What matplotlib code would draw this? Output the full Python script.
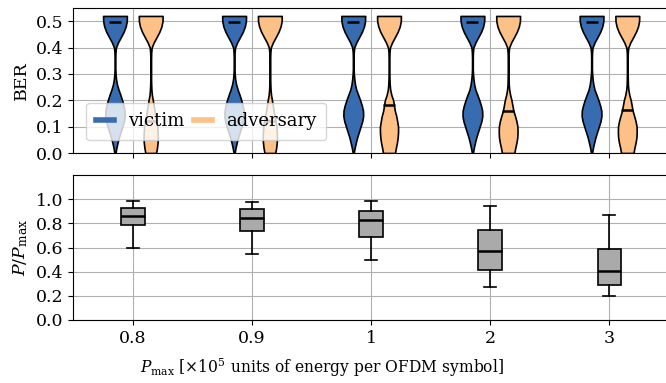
import matplotlib

matplotlib.use("Agg")

import matplotlib.pyplot as plt
from matplotlib.lines import Line2D

plt.rcParams["font.family"] = "DejaVu Serif"
plt.rcParams["mathtext.fontset"] = "dejavuserif"
plt.rcParams["font.size"] = 12.5
plt.rcParams["axes.axisbelow"] = True

# x axis
P_MAX_LABELS = ["0.8", "0.9", "1", "2", "3"]

# BER levels at which the violin widths were read (bottom to top)
BER_LEVELS = [0.00, 0.02, 0.04, 0.06, 0.08, 0.10, 0.12, 0.14, 0.16, 0.18,
              0.20, 0.22, 0.24, 0.26, 0.28, 0.30, 0.32, 0.34, 0.36, 0.38,
              0.40, 0.42, 0.44, 0.46, 0.48, 0.50, 0.52]

# relative density of BER, one row per P_max value
VICTIM_DENSITY = [
    [0.04, 0.12, 0.22, 0.34, 0.48, 0.62, 0.75, 0.82, 0.80, 0.72, 0.60, 0.46, 0.30, 0.17, 0.09,
     0.05, 0.03, 0.03, 0.03, 0.04, 0.08, 0.26, 0.50, 0.73, 0.90, 0.99, 1.00],
    [0.04, 0.12, 0.22, 0.34, 0.48, 0.62, 0.75, 0.82, 0.80, 0.72, 0.60, 0.46, 0.30, 0.17, 0.09,
     0.05, 0.03, 0.03, 0.03, 0.04, 0.08, 0.26, 0.50, 0.73, 0.90, 0.99, 1.00],
    [0.04, 0.12, 0.22, 0.33, 0.47, 0.61, 0.75, 0.83, 0.82, 0.72, 0.58, 0.42, 0.25, 0.15, 0.09,
     0.05, 0.03, 0.03, 0.03, 0.04, 0.08, 0.26, 0.50, 0.73, 0.90, 0.99, 1.00],
    [0.04, 0.12, 0.22, 0.33, 0.47, 0.61, 0.75, 0.83, 0.82, 0.72, 0.58, 0.42, 0.25, 0.15, 0.09,
     0.05, 0.03, 0.03, 0.03, 0.04, 0.08, 0.26, 0.50, 0.73, 0.90, 0.99, 1.00],
    [0.04, 0.12, 0.22, 0.33, 0.47, 0.61, 0.75, 0.83, 0.82, 0.72, 0.58, 0.42, 0.25, 0.15, 0.09,
     0.05, 0.03, 0.03, 0.03, 0.04, 0.08, 0.26, 0.50, 0.73, 0.90, 0.99, 1.00],
]
ADVERSARY_DENSITY = [
    [0.45, 0.53, 0.58, 0.60, 0.58, 0.55, 0.48, 0.40, 0.32, 0.25, 0.18, 0.10, 0.06, 0.04, 0.03,
     0.03, 0.03, 0.03, 0.03, 0.04, 0.08, 0.26, 0.50, 0.73, 0.90, 0.99, 1.00],
    [0.45, 0.53, 0.58, 0.60, 0.58, 0.55, 0.48, 0.40, 0.32, 0.25, 0.18, 0.10, 0.06, 0.04, 0.03,
     0.03, 0.03, 0.03, 0.03, 0.04, 0.08, 0.26, 0.50, 0.73, 0.90, 0.99, 1.00],
    [0.50, 0.58, 0.67, 0.73, 0.76, 0.76, 0.69, 0.61, 0.49, 0.42, 0.35, 0.20, 0.10, 0.06, 0.04,
     0.03, 0.03, 0.03, 0.03, 0.04, 0.08, 0.26, 0.50, 0.73, 0.90, 0.99, 1.00],
    [0.52, 0.60, 0.70, 0.77, 0.79, 0.78, 0.70, 0.58, 0.44, 0.36, 0.28, 0.17, 0.09, 0.05, 0.04,
     0.03, 0.03, 0.03, 0.03, 0.04, 0.08, 0.26, 0.50, 0.73, 0.90, 0.99, 1.00],
    [0.52, 0.60, 0.70, 0.77, 0.79, 0.78, 0.70, 0.58, 0.45, 0.37, 0.29, 0.17, 0.09, 0.05, 0.04,
     0.03, 0.03, 0.03, 0.03, 0.04, 0.08, 0.26, 0.50, 0.73, 0.90, 0.99, 1.00],
]
VICTIM_MEDIAN = [0.497, 0.497, 0.497, 0.497, 0.497]
ADVERSARY_MEDIAN = [0.12, 0.12, 0.184, 0.158, 0.163]

# P / P_max box statistics
WHISKER_LOW = [0.593, 0.543, 0.496, 0.270, 0.198]
Q1 = [0.790, 0.735, 0.683, 0.413, 0.287]
MEDIAN = [0.862, 0.846, 0.824, 0.570, 0.408]
Q3 = [0.928, 0.915, 0.906, 0.746, 0.587]
WHISKER_HIGH = [0.986, 0.980, 0.983, 0.942, 0.868]

VICTIM_COLOR = "#386cb0"
ADVERSARY_COLOR = "#fdc086"


def violin_stats(density, median):
    return {
        "coords": BER_LEVELS,
        "vals": density,
        "mean": median,
        "median": median,
        "min": BER_LEVELS[0],
        "max": BER_LEVELS[-1],
    }


def draw_violins(ax, densities, medians, positions, color):
    stats = [violin_stats(d, m) for d, m in zip(densities, medians)]
    parts = ax.violin(stats, positions=positions, widths=0.2,
                      showmeans=False, showextrema=False, showmedians=True)
    for body in parts["bodies"]:
        body.set_facecolor(color)
        body.set_edgecolor("black")
        body.set_linewidth(1.2)
        body.set_alpha(1)
    parts["cmedians"].set_color("black")
    parts["cmedians"].set_linewidth(1.8)


fig, (ax_ber, ax_pow) = plt.subplots(2, 1, figsize=(6.66, 3.83), dpi=100, sharex=True)
fig.subplots_adjust(left=0.11, right=1.0045, top=0.979, bottom=0.1645, hspace=0.152)

x = list(range(len(P_MAX_LABELS)))

draw_violins(ax_ber, VICTIM_DENSITY, VICTIM_MEDIAN, [i - 0.15 for i in x], VICTIM_COLOR)
draw_violins(ax_ber, ADVERSARY_DENSITY, ADVERSARY_MEDIAN, [i + 0.15 for i in x], ADVERSARY_COLOR)
ax_ber.set_ylim(0, 0.55)
ax_ber.set_yticks([0.0, 0.1, 0.2, 0.3, 0.4, 0.5])
ax_ber.set_ylabel("BER")
ax_ber.grid(True)
handles = [Line2D([], [], color=VICTIM_COLOR, lw=4), Line2D([], [], color=ADVERSARY_COLOR, lw=4)]
ax_ber.legend(handles, ["victim", "adversary"], loc="lower left", ncol=2, fontsize=13,
              handlelength=1.0, columnspacing=0.5, borderaxespad=0.7, borderpad=0.55)

box_stats = [
    {"med": m, "q1": a, "q3": b, "whislo": lo, "whishi": hi, "fliers": []}
    for m, a, b, lo, hi in zip(MEDIAN, Q1, Q3, WHISKER_LOW, WHISKER_HIGH)
]
ax_pow.bxp(box_stats, positions=x, widths=0.2, patch_artist=True, showfliers=False,
           boxprops={"facecolor": "#aaaaaa", "edgecolor": "black", "linewidth": 1.2},
           medianprops={"color": "black", "linewidth": 1.8},
           whiskerprops={"linewidth": 1.2}, capprops={"linewidth": 1.2})
ax_pow.set_ylim(0, 1.2)
ax_pow.set_yticks([0.0, 0.2, 0.4, 0.6, 0.8, 1.0])
ax_pow.set_ylabel(r"$P/P_{\mathrm{max}}$")
ax_pow.grid(True)

ax_pow.set_xlim(-0.5, 4.5)
ax_pow.set_xticks(x, P_MAX_LABELS)
ax_pow.set_xlabel(r"$P_{\mathrm{max}}$ [$\times10^5$ units of energy per OFDM symbol]", fontsize=11.2)
ax_pow.xaxis.set_label_coords(0.418, -0.25)

fig.savefig("out.png", dpi=100)
